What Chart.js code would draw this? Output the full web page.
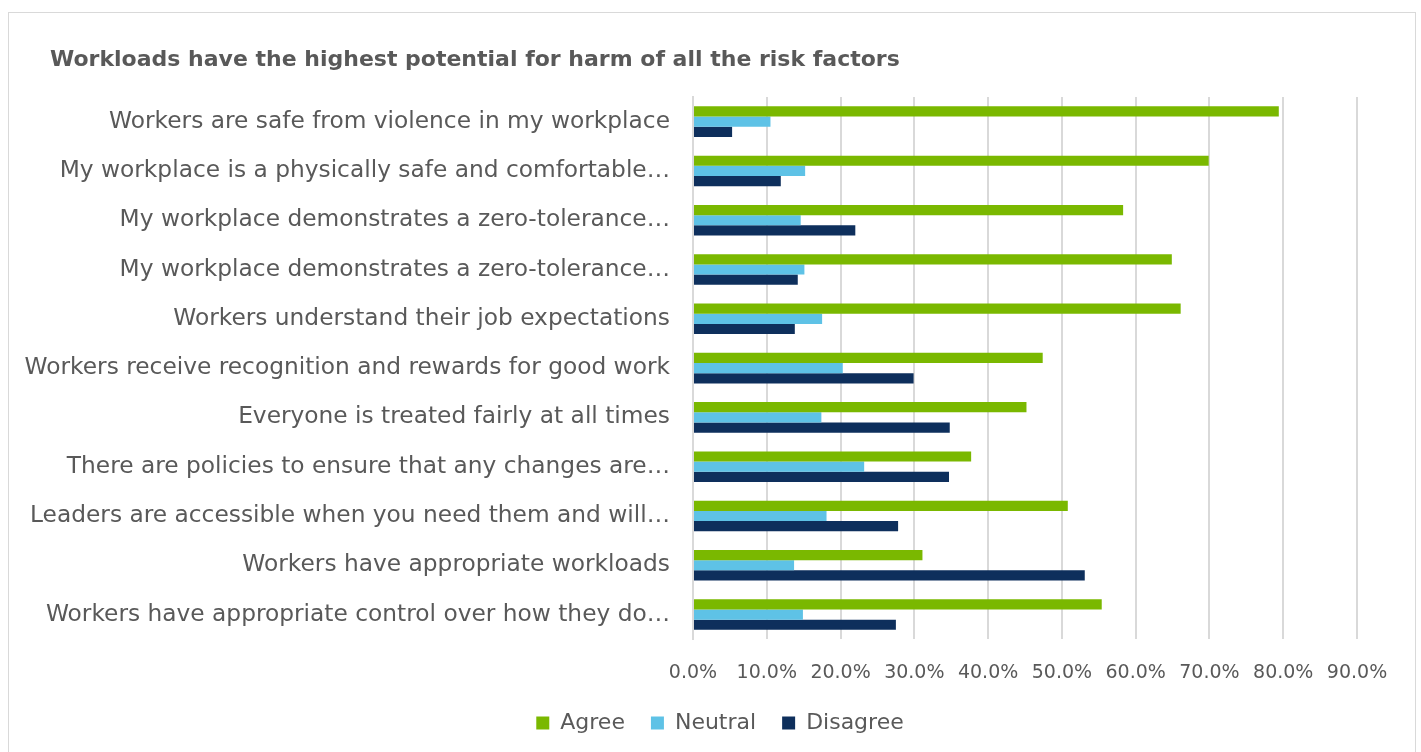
<!DOCTYPE html>
<html>
<head>
<meta charset="utf-8">
<script src="https://cdn.jsdelivr.net/npm/chart.js@4.4.1/dist/chart.umd.min.js"></script>
<style>
  html, body { margin: 0; padding: 0; background: #fff; overflow: hidden; }
  #frame {
    position: absolute; left: 8px; top: 12px; width: 1408px; height: 760px;
    border: 1px solid #d9d9d9; box-sizing: border-box;
  }
  #wrap { position: absolute; left: 0; top: 0; width: 1421px; height: 752px; }
</style>
</head>
<body>
<div id="frame"></div>
<div id="wrap"><canvas id="chart" width="1421" height="752"></canvas></div>
<script>
(function () {
  "use strict";

  const TITLE = "Workloads have the highest potential for harm of all the risk factors";

  const categories = [
    "Workers are safe from violence in my workplace",
    "My workplace is a physically safe and comfortable…",
    "My workplace demonstrates a zero-tolerance…",
    "My workplace demonstrates a zero-tolerance…",
    "Workers understand their job expectations",
    "Workers receive recognition and rewards for good work",
    "Everyone is treated fairly at all times",
    "There are policies to ensure that any changes are…",
    "Leaders are accessible when you need them and will…",
    "Workers have appropriate workloads",
    "Workers have appropriate control over how they do…"
  ];

  const agree    = [79.4, 69.9, 58.3, 64.9, 66.1, 47.4, 45.2, 37.7, 50.8, 31.1, 55.4];
  const neutral  = [10.5, 15.2, 14.6, 15.1, 17.5, 20.3, 17.4, 23.2, 18.1, 13.7, 14.9];
  const disagree = [5.3, 11.9, 22.0, 14.2, 13.8, 29.9, 34.8, 34.7, 27.8, 53.1, 27.5];

  const xTicks = [0, 10, 20, 30, 40, 50, 60, 70, 80, 90];

  const TEXT = "#595959";
  const FONT = "'DejaVu Sans', sans-serif";

  function get(id) {
    return document.getElementById(id);
  }

  // title drawn by hand so it can sit right of the long y labels
  const titlePlugin = {
    id: "leftTitle",
    afterLayout(chart) {
      // legend in the original is centred on the whole frame, not the plot
      if (chart.legend) {
        chart.legend.left += 68;
      }
    },
    afterDraw(chart) {
      const c = chart.ctx;
      c.save();
      c.fillStyle = TEXT;
      c.font = "bold 22px " + FONT;
      c.textAlign = "left";
      c.textBaseline = "middle";
      c.fillText(TITLE, 50, 60);
      c.restore();
    },
  };

  function makeDataset(label, data, color) {
    return {
      label: label,
      data: data,
      backgroundColor: color,
      borderColor: color,
      borderWidth: 0,
      categoryPercentage: 0.62,
      barPercentage: 1.0,
    };
  }

  function init() {
    const ctx = get("chart").getContext("2d");
    new Chart(ctx, {
      type: "bar",
      data: {
        labels: categories,
        datasets: [
          makeDataset("Agree", agree, "#7ab800"),
          makeDataset("Neutral", neutral, "#5ec2e6"),
          makeDataset("Disagree", disagree, "#0e2f5c"),
        ],
      },
      plugins: [titlePlugin],
      options: {
        indexAxis: "y",
        responsive: false,
        animation: false,
        layout: { padding: { left: 15, right: 64, top: 97, bottom: 8 } },
        plugins: {
          title: { display: false },
          legend: {
            position: "bottom",
            labels: {
              color: TEXT,
              font: { family: FONT, size: 22 },
              boxWidth: 13,
              boxHeight: 13,
              padding: 26,
            },
          },
          tooltip: { enabled: false },
        },
        scales: {
          x: {
            min: 0,
            max: 90,
            afterBuildTicks: (scale) => {
              scale.ticks = xTicks.map((v) => ({ value: v }));
            },
            afterFit: (scale) => {
              scale.height -= 20;
            },
            ticks: {
              color: TEXT,
              font: { family: FONT, size: 19 },
              padding: 22,
              maxRotation: 0,
              callback: (v) => Number(v).toFixed(1) + "%",
            },
            grid: { color: "#d9d9d9", lineWidth: 2, drawTicks: false },
            border: { display: false },
          },
          y: {
            afterFit: (scale) => {
              scale.width = 678;
            },
            ticks: {
              color: TEXT,
              font: { family: FONT, size: 23.3 },
              padding: 15,
              autoSkip: false,
            },
            grid: { display: false },
            border: { color: "#d9d9d9", width: 2 },
          },
        },
      },
    });
  }

  if (document.readyState === "loading") {
    document.addEventListener("DOMContentLoaded", init);
  } else {
    init();
  }
})();
</script>
</body>
</html>
